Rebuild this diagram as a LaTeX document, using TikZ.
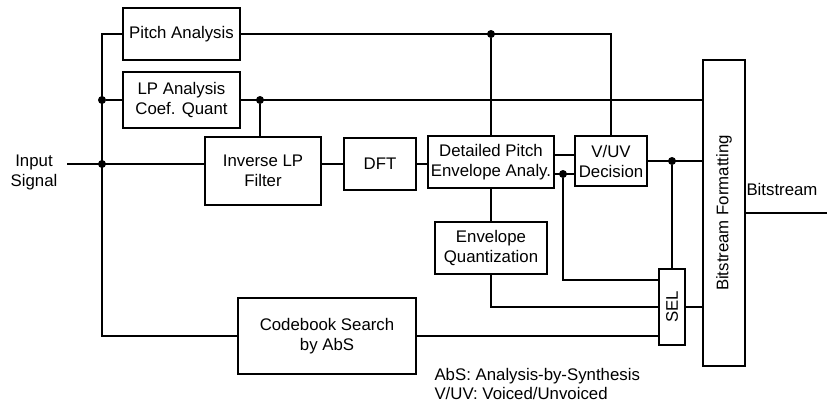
\documentclass[tikz,border=0pt]{standalone}
\usepackage{fontspec}
\setmainfont{Liberation Sans}
\begin{document}
\begin{tikzpicture}[x=1pt,y=-1pt,
  every node/.style={font=\fontsize{16.8}{20}\selectfont},
  blk/.style={draw, line width=1.3pt, inner sep=0pt, align=center},
  wire/.style={line width=1.3pt, line join=miter},
  dot/.style={circle, fill, inner sep=0pt, minimum size=8pt}]
\useasboundingbox (0,0) rectangle (827,405);

% processing blocks
\node[blk, minimum width=117pt, minimum height=52pt] (pitch) at (181.5,34) {Pitch Analysis};
\node[blk, minimum width=117pt, minimum height=56pt] (lpa) at (181.5,100) {LP Analysis\\Coef. Quant};
\node[blk, minimum width=116pt, minimum height=68pt] (inv) at (263,171) {Inverse LP\\Filter};
\node[blk, minimum width=72pt, minimum height=52pt] (dft) at (380,164) {DFT};
\node[blk, minimum width=126pt, minimum height=52pt] (det) at (491,162) {Detailed Pitch\\Envelope Analy.};
\node[blk, minimum width=72pt, minimum height=50pt] (vuv) at (611,161) {V/UV\\Decision};
\node[blk, minimum width=112pt, minimum height=52pt] (env) at (491,248) {Envelope\\Quantization};
\node[blk, minimum width=178pt, minimum height=76pt] (cb) at (327,336) {Codebook Search\\by AbS};
\node[blk, minimum width=26pt, minimum height=76pt] (sel) at (672,307) {};
\node[rotate=90] (seltxt) at (sel.center) {SEL};
\node[blk, minimum width=42pt, minimum height=306pt] (bsf) at (724,213) {};
\node[rotate=90] (bsftxt) at (bsf.center) {Bitstream Formatting};

% labels
\node[align=center] (inlbl) at (34,172) {Input\\Signal};
\node (outlbl) at (782,189) {Bitstream};
\node[anchor=west] (leg1) at (431,376) {AbS: Analysis-by-Synthesis};
\node[anchor=west] (leg2) at (431,393) {V/UV: Voiced/Unvoiced};

% input distribution
\coordinate (in) at (67,164);
\node[dot] (jin) at (102,164) {};
\node[dot] (jlp) at (jin |- lpa.west) {};
\draw[wire] (in) -- (inv.west |- in);
\draw[wire] (pitch.west) -| (jin |- cb.west) -- (cb.west);
\draw[wire] (jlp) -- (lpa.west);

% LP coefficients
\node[dot] (jlo) at (260,100) {};
\draw[wire] (lpa.east) -- (bsf.west |- lpa.east);
\draw[wire] (jlo) -- (jlo |- inv.north);

% pitch path
\node[dot] (jp) at (det.north |- pitch.east) {};
\draw[wire] (pitch.east) -| (vuv.north);
\draw[wire] (jp) -- (det.north);

% spectral path
\draw[wire] (inv.east |- dft.west) -- (dft.west);
\draw[wire] (dft.east) -- (det.west |- dft.east);
\draw[wire] ([yshift=7pt]det.east) -- ([yshift=7pt]det.east -| vuv.west);
\node[dot] (jd) at (563,174) {};
\draw[wire] ([yshift=-12pt]det.east) -- ([yshift=-12pt]det.east -| vuv.west);
\draw[wire] (jd) |- ([yshift=27pt]sel.west);

% decision output
\node[dot] (jv) at (sel.north |- vuv.east) {};
\draw[wire] (vuv.east) -- (bsf.west |- vuv.east);
\draw[wire] (jv) -- (sel.north);

% quantized envelope and codebook to selector
\draw[wire] (det.south) -- (env.north);
\draw[wire] (env.south) |- (sel.west);
\draw[wire] (cb.east) -- (sel.west |- cb.east);
\draw[wire] (sel.east) -- (bsf.west |- sel.east);

% output
\coordinate (out) at (827,213);
\draw[wire] (bsf.east) -- (out);
\end{tikzpicture}
\end{document}
